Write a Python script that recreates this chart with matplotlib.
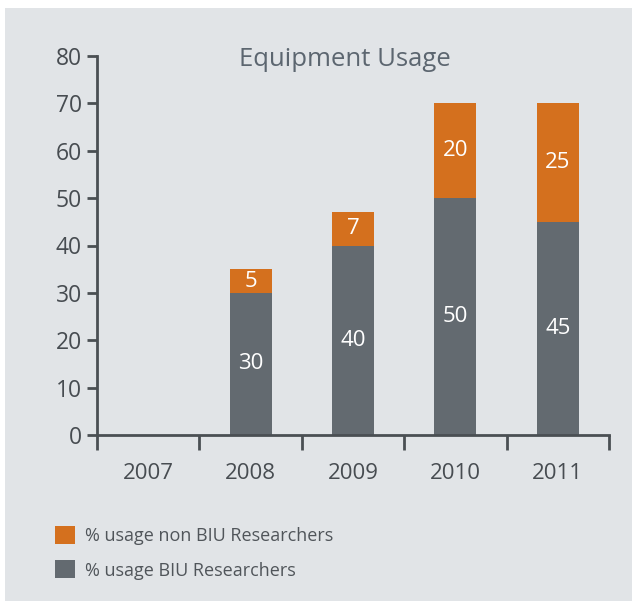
import numpy as np
import matplotlib.pyplot as plt
from matplotlib.patches import Patch

years = ['2007', '2008', '2009', '2010', '2011']
biu = [0, 30, 40, 50, 45]
non_biu = [0, 5, 7, 20, 25]

bg = '#e1e4e7'
grey = '#636a70'
orange = '#d4701e'
axis_col = '#4a4f53'
text_col = '#474c51'

plt.rcParams['font.family'] = ['Open Sans', 'DejaVu Sans']

fig = plt.figure(figsize=(6.32, 6.01), dpi=100)
fig.patch.set_facecolor('white')
# grey panel behind everything, leaving a thin white margin top/left
fig.patches.append(plt.Rectangle((5 / 632, 0), 1, 1 - 8 / 601, transform=fig.transFigure,
                                 facecolor=bg, edgecolor='none', zorder=-10))

ax = fig.add_axes([97 / 632, 1 - 435 / 601, (609 - 97) / 632, (435 - 56) / 601])
ax.set_facecolor('none')

x = np.arange(len(years))
ax.bar(x, biu, width=0.41, color=grey, zorder=2)
ax.bar(x, non_biu, bottom=biu, width=0.41, color=orange, zorder=2)

for i in range(len(years)):
    if biu[i]:
        ax.text(x[i], biu[i] / 2, str(biu[i]), color='white', ha='center', va='center',
                fontsize=16)
    if non_biu[i]:
        ax.text(x[i], biu[i] + non_biu[i] / 2, str(non_biu[i]), color='white',
                ha='center', va='center', fontsize=16)

ax.set_xlim(-0.5, len(years) - 0.5)
ax.set_ylim(0, 80)
ax.set_yticks(range(0, 81, 10))
ax.set_xticks(np.arange(-0.5, len(years), 1))
ax.set_xticklabels([])
ax.set_xticks(x, minor=True)
ax.set_xticklabels(years, minor=True)

for side in ['top', 'right']:
    ax.spines[side].set_visible(False)
for side in ['left', 'bottom']:
    ax.spines[side].set_color(axis_col)
    ax.spines[side].set_linewidth(2)

ax.tick_params(axis='y', length=7, width=2, color=axis_col, labelsize=16.5,
               labelcolor=text_col, pad=4)
ax.tick_params(axis='x', which='major', length=11, width=2, color=axis_col)
ax.tick_params(axis='x', which='minor', length=0, labelsize=16, labelcolor=text_col, pad=20)

fig.text(345 / 632, 1 - 60 / 601, 'Equipment Usage', ha='center', va='center',
         fontsize=18.5, color='#5c6670')

handles = [Patch(facecolor=orange), Patch(facecolor=grey)]
labels = ['% usage non BIU Researchers', '% usage BIU Researchers']
fig.legend(handles, labels, loc='upper left', bbox_to_anchor=(55 / 632, 1 - 526 / 601),
           frameon=False, fontsize=13, labelcolor='#50555a', handlelength=1.1,
           handleheight=1.15, handletextpad=0.55, labelspacing=0.85,
           borderpad=0, borderaxespad=0)

fig.savefig('out.png', dpi=100, facecolor='white')
